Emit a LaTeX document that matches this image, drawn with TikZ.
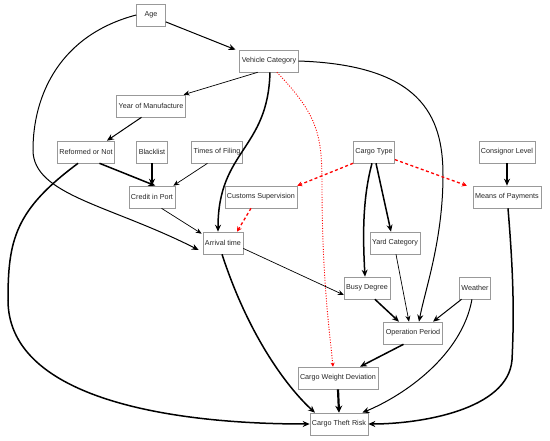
\documentclass[tikz,border=0pt]{standalone}
\usepackage{fontspec}
\setmainfont{Liberation Sans}
\usetikzlibrary{arrows.meta}

\tikzset{
  factor/.style={draw=gray!80, line width=0.6pt, fill=white, minimum height=22pt, minimum width=29pt, inner xsep=2pt, font=\fontsize{7.2}{8}\selectfont, text=black!85},
  lnk/.style={line width=0.7pt, -{Stealth[length=6pt,width=5pt]}},
  lnkm/.style={line width=1pt, -{Stealth[length=7pt,width=6pt]}},
  lnkb/.style={line width=1.5pt, -{Stealth[length=7pt,width=6pt]}},
  lnkh/.style={line width=2.2pt, -{Stealth[length=7pt,width=7pt]}},
  redash/.style={red, line width=1.3pt, dash pattern=on 3pt off 2.5pt, -{Stealth[length=5pt,width=5pt]}},
  redot/.style={red, line width=0.9pt, dash pattern=on 1pt off 1.6pt, -{Stealth[length=4pt,width=4pt]}}
}

\begin{document}
\begin{tikzpicture}[x=1pt, y=-1pt]
  \useasboundingbox (0,0) rectangle (550,441);
  \node[factor] (age) at (151,15) {Age};
  \node[factor] (vc) at (269,61) {Vehicle Category};
  \node[factor] (yom) at (151,106) {Year of Manufacture};
  \node[factor] (ron) at (86,152) {Reformed or Not};
  \node[factor] (bl) at (152,152) {Blacklist};
  \node[factor] (tof) at (217,152) {Times of Filing};
  \node[factor] (cip) at (152,197) {Credit in Port};
  \node[factor] (cs) at (261,197) {Customs Supervision};
  \node[factor] (ctype) at (374,152) {Cargo Type};
  \node[factor] (cl) at (507,152) {Consignor Level};
  \node[factor] (mop) at (507,197) {Means of Payments};
  \node[factor] (arr) at (223,243) {Arrival time};
  \node[factor] (yc) at (395,243) {Yard Category};
  \node[factor] (bd) at (367,288) {Busy Degree};
  \node[factor] (we) at (475,288) {Weather};
  \node[factor] (op) at (413,333) {Operation Period};
  \node[factor] (cwd) at (338,378) {Cargo Weight Deviation};
  \node[factor] (ctr) at (339,424) {Cargo Theft Risk};

  \draw[lnkm] (age.-25) -- ([xshift=-4pt]vc.north west);
  \draw[lnk] (vc.225) -- ([xshift=-2pt]yom.north east);
  \draw[lnkm] (yom.230) -- ([xshift=-8pt]ron.north east);
  \draw[lnkb] (ron.-40) -- ([xshift=-20pt]cip.north east);
  \draw[lnkb] (bl.south) -- (cip.north);
  \draw[lnk] (tof.230) -- ([xshift=-2pt]cip.north east);
  \draw[lnk] (cip.-50) -- ([shift={(-1pt,-2pt)}]arr.north west);
  \draw[lnkm] (age.west) .. controls (60,35) and (33,95) .. (33,150)
    .. controls (33,195) and (110,205) .. ([shift={(-4pt,-7pt)}]arr.west);
  \draw[lnkb] (vc.-85) .. controls (268,150) and (218,150) .. ([xshift=-5pt]arr.north);
  \draw[redot] (vc.-55) .. controls (318,115) and (322,135) .. (322,185)
    .. controls (322,280) and (330,335) .. ([xshift=-5pt]cwd.north);
  \draw[lnkm] (vc.east) .. controls (420,65) and (443,115) .. (443,175)
    .. controls (443,240) and (425,290) .. ([xshift=6pt]op.north);
  \draw[lnkb] (ron.235) .. controls (15,210) and (8,240) .. (8,300)
    .. controls (8,395) and (160,424) .. (ctr.west);
  \draw[redash] (ctype.south west) -- (cs.north east);
  \draw[redash] (ctype.-20) -- ([xshift=-6pt]mop.north west);
  \draw[redash] ([xshift=-10pt]cs.south) -- ([xshift=14pt]arr.north);
  \draw[lnkb] (ctype.-100) .. controls (362,200) and (363,240) .. ([xshift=-2pt]bd.north);
  \draw[lnkb] (ctype.-80) -- ([xshift=-4pt]yc.north);
  \draw[lnkb] (cl.south) -- (mop.north);
  \draw[lnkb] (mop.-85) .. controls (514,280) and (514,320) .. (512,360)
    .. controls (508,410) and (420,424) .. (ctr.east);
  \draw[lnk] (arr.-15) -- ([yshift=-7pt]bd.west);
  \draw[lnkb] (arr.-95) .. controls (250,340) and (290,390) .. ([xshift=-24pt]ctr.north);
  \draw[lnk] (yc.-85) -- ([xshift=-4pt]op.north);
  \draw[lnkb] (bd.-55) -- ([xshift=-14pt]op.north);
  \draw[lnkm] (we.-140) -- ([xshift=20pt]op.north);
  \draw[lnkm] (we.-105) .. controls (462,355) and (405,395) .. ([xshift=-6pt]ctr.north east);
  \draw[lnkb] (op.-130) -- ([xshift=22pt]cwd.north);
  \draw[lnkh] (cwd.south) -- (ctr.north);
\end{tikzpicture}
\end{document}
